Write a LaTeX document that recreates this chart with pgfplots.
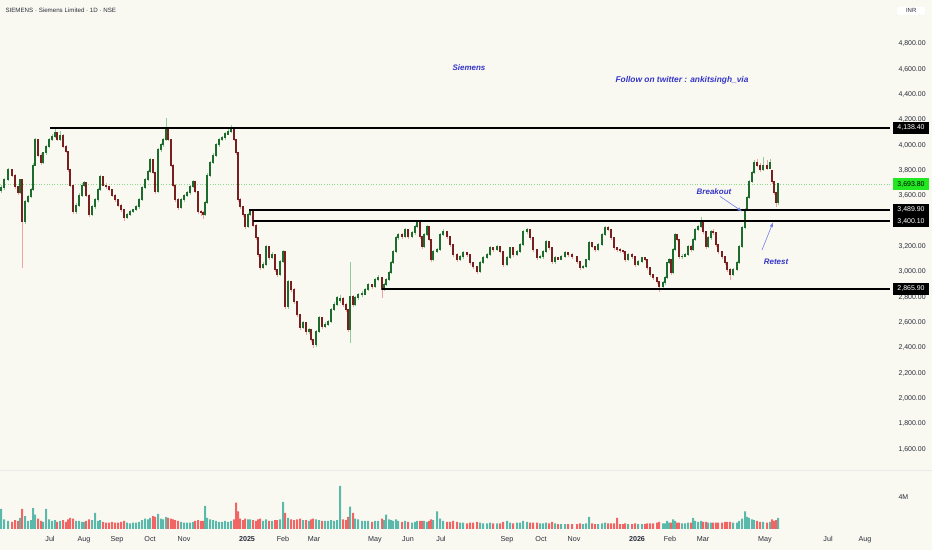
\documentclass[border=0pt]{standalone}
\usepackage{pgfplots}
\usepackage{pgfplotstable}
\pgfplotsset{compat=1.18}
\usepackage{fontspec}
\setmainfont{Liberation Sans}
\definecolor{bgcol}{HTML}{F9F9F2}
\definecolor{upbody}{HTML}{1E6B2E}
\definecolor{downbody}{HTML}{7A1F1F}
\definecolor{upwick}{HTML}{8FCB9B}
\definecolor{downwick}{HTML}{EFA3A3}
\definecolor{volup}{HTML}{3FAE9E}
\definecolor{voldown}{HTML}{F04C4C}
\definecolor{tickcol}{HTML}{2A2E39}
\definecolor{annot}{HTML}{3535C8}
\definecolor{arrowcol}{HTML}{6F7FE8}
\definecolor{lastgreen}{HTML}{22E822}
\definecolor{dotgreen}{HTML}{8CD88C}

\pgfplotstableread{
x o h l c v
1 3640 3690 3625 3663 2.5
4 3663 3740 3650 3726 1.2
8 3726 3820 3715 3805 1.0
12 3805 3815 3750 3765 0.9
15 3765 3775 3655 3671 1.1
18 3671 3680 3605 3623 1.0
20 3623 3735 3615 3726 1.4
22 3726 3735 3031 3394 2.5
25 3394 3565 3380 3552 1.6
28 3552 3605 3540 3592 1.0
31 3592 3660 3580 3647 1.1
33 3647 3860 3640 3844 2.6
35 3844 4060 3835 4042 1.8
38 4042 4050 3905 3923 1.3
41 3923 3935 3845 3860 1.0
43 3860 3950 3850 3939 0.9
46 3939 4000 3925 3987 2.5
49 3987 4060 3975 4042 1.2
52 4042 4090 4030 4066 1.0
55 4066 4125 4055 4097 1.1
57 4097 4105 4030 4042 0.9
60 4042 4110 4030 4081 1.0
63 4081 4090 3975 3987 1.1
66 3987 4000 3935 3947 0.9
68 3947 3955 3790 3805 1.2
70 3805 3815 3670 3686 1.4
73 3686 3695 3455 3473 1.3
76 3473 3545 3460 3528 1.0
79 3528 3620 3515 3607 1.0
82 3607 3700 3595 3686 0.9
84 3686 3720 3670 3702 0.9
86 3702 3710 3595 3607 1.0
89 3607 3615 3430 3450 1.2
92 3450 3530 3440 3513 1.1
95 3513 3585 3500 3568 2.0
98 3568 3660 3555 3647 1.0
100 3647 3765 3640 3750 1.1
103 3750 3760 3675 3686 0.9
106 3686 3700 3655 3671 0.8
109 3671 3680 3635 3647 0.8
112 3647 3655 3595 3607 0.9
115 3607 3615 3555 3568 0.8
118 3568 3575 3510 3528 0.8
121 3528 3535 3475 3489 0.9
124 3489 3495 3405 3426 1.0
127 3426 3465 3415 3450 0.8
130 3450 3490 3440 3473 0.7
133 3473 3500 3465 3489 0.8
136 3489 3525 3480 3513 0.8
139 3513 3580 3500 3568 0.9
142 3568 3675 3560 3663 1.1
145 3663 3740 3655 3726 1.3
148 3726 3805 3715 3789 1.2
150 3789 3900 3780 3884 1.4
153 3884 3890 3770 3781 1.6
155 3781 3790 3615 3631 1.5
158 3631 3975 3625 3963 1.9
161 3963 4020 3950 4003 1.3
163 4003 4060 3990 4042 1.2
166 4042 4216 4030 4137 1.5
168 4137 4145 4030 4042 1.4
171 4042 4050 3830 3844 1.3
173 3844 3850 3670 3686 1.2
175 3686 3695 3550 3568 1.1
178 3568 3580 3485 3505 1.0
181 3505 3580 3495 3568 0.9
184 3568 3615 3555 3600 0.8
187 3600 3640 3590 3623 0.8
190 3623 3685 3610 3671 0.8
193 3671 3725 3660 3710 0.9
195 3710 3715 3620 3631 1.0
198 3631 3640 3455 3473 1.1
201 3473 3490 3445 3465 1.0
203 3465 3480 3420 3450 1.0
205 3450 3560 3440 3544 2.9
207 3544 3780 3535 3765 1.4
210 3765 3875 3750 3860 1.2
213 3860 3940 3850 3923 1.1
216 3923 4015 3910 4003 1.0
219 4003 4060 3990 4042 0.9
222 4042 4075 4030 4058 0.9
225 4058 4105 4045 4089 1.0
228 4089 4125 4080 4105 0.9
231 4105 4160 4095 4129 1.0
234 4129 4135 4030 4042 1.2
236 4042 4050 3925 3939 3.3
238 3939 3945 3550 3568 2.2
240 3568 3580 3495 3513 1.3
243 3513 3520 3430 3450 1.1
245 3450 3460 3340 3355 1.3
248 3355 3465 3345 3450 1.2
250 3450 3490 3440 3473 1.2
253 3473 3480 3355 3370 1.1
256 3370 3380 3250 3268 1.0
258 3268 3275 3115 3134 1.2
260 3134 3140 3015 3031 1.3
263 3031 3075 3020 3055 1.0
266 3055 3215 3045 3197 1.2
269 3197 3205 3095 3110 1.0
272 3110 3155 3100 3134 1.0
275 3134 3140 3000 3015 1.1
277 3015 3025 2960 2976 1.1
280 2976 3090 2965 3078 1.2
283 3078 3175 3070 3157 3.4
285 3157 3165 2705 2723 2.0
288 2723 2935 2710 2920 1.4
291 2920 2930 2840 2857 1.2
294 2857 2870 2745 2762 1.1
297 2762 2770 2640 2660 1.2
300 2660 2670 2540 2557 1.3
303 2557 2615 2545 2596 1.1
306 2596 2605 2505 2525 1.1
309 2525 2560 2510 2541 1.0
311 2541 2550 2445 2462 1.2
313 2462 2470 2399 2423 1.3
316 2423 2540 2410 2525 1.2
319 2525 2650 2515 2636 1.1
322 2636 2645 2550 2565 1.0
325 2565 2600 2555 2581 1.0
328 2581 2620 2570 2604 1.0
331 2604 2715 2595 2699 1.1
334 2699 2760 2690 2739 1.0
337 2739 2810 2730 2794 1.1
340 2770 2815 2755 2790 5.4
343 2790 2800 2725 2739 1.2
346 2739 2750 2685 2699 1.1
348 2699 2710 2525 2541 1.5
350 2541 3078 2438 2802 2.8
353 2802 2815 2725 2739 2.0
355 2739 2810 2730 2794 1.3
358 2794 2835 2780 2818 1.2
362 2818 2845 2800 2825 1.0
365 2825 2875 2815 2857 1.0
368 2857 2915 2845 2897 1.0
372 2897 2905 2865 2881 0.9
375 2881 2950 2870 2936 1.0
378 2936 2975 2925 2952 1.0
382 2952 2960 2794 2857 1.3
384 2857 2910 2845 2897 1.1
386 2897 2950 2885 2936 1.8
389 2936 3005 2925 2991 1.2
391 2991 3085 2980 3070 1.1
393 3070 3170 3060 3157 1.0
396 3157 3285 3150 3268 1.2
398 3268 3310 3255 3292 1.0
402 3292 3305 3260 3276 0.9
405 3276 3345 3265 3331 1.0
408 3331 3340 3260 3276 0.9
412 3276 3325 3265 3307 0.8
415 3307 3370 3295 3355 0.9
417 3355 3400 3345 3386 1.0
420 3386 3395 3260 3276 1.0
422 3276 3285 3180 3197 1.0
424 3197 3305 3185 3292 1.0
427 3292 3370 3280 3355 0.9
429 3355 3365 3240 3252 1.0
431 3252 3260 3075 3094 1.2
433 3094 3170 3085 3157 1.1
437 3157 3190 3145 3173 2.2
440 3173 3305 3165 3292 1.3
443 3292 3335 3280 3315 1.0
447 3315 3325 3260 3276 0.9
450 3276 3285 3200 3213 0.9
453 3213 3220 3120 3134 1.0
457 3134 3145 3080 3094 0.9
460 3094 3135 3085 3118 0.8
463 3118 3165 3105 3149 0.8
467 3149 3160 3120 3134 0.7
470 3134 3140 3055 3070 0.8
473 3070 3080 3025 3039 0.8
477 3039 3050 2985 2999 0.9
480 2999 3085 2990 3070 0.8
483 3070 3125 3060 3110 0.7
487 3110 3150 3100 3134 0.7
490 3134 3205 3125 3189 0.8
493 3189 3200 3160 3173 0.7
497 3173 3215 3165 3197 0.7
500 3197 3205 3145 3157 0.7
503 3157 3165 3040 3055 0.9
507 3055 3125 3045 3110 1.0
510 3110 3200 3100 3189 0.8
513 3189 3195 3120 3134 0.7
517 3134 3170 3125 3157 0.8
520 3157 3225 3145 3213 0.8
523 3213 3330 3205 3315 1.0
527 3315 3345 3300 3331 0.9
530 3331 3340 3255 3268 0.8
533 3268 3275 3160 3173 0.8
537 3173 3180 3095 3110 0.8
540 3110 3135 3100 3118 0.7
543 3118 3170 3105 3157 0.7
546 3157 3250 3145 3236 0.8
549 3236 3245 3175 3189 0.7
552 3189 3195 3060 3078 0.9
555 3078 3125 3065 3110 0.7
558 3110 3120 3090 3100 0.6
561 3100 3130 3090 3118 0.6
565 3118 3165 3110 3149 0.6
568 3149 3160 3120 3134 0.6
572 3134 3145 3105 3118 0.6
577 3118 3125 3065 3078 0.6
580 3078 3085 3015 3031 0.7
583 3031 3055 3020 3039 0.6
586 3039 3105 3030 3094 0.7
589 3094 3240 3085 3228 1.5
592 3228 3235 3185 3197 0.7
595 3197 3205 3160 3173 0.6
598 3173 3225 3165 3213 0.6
602 3213 3305 3205 3292 0.7
605 3292 3360 3280 3347 0.8
608 3347 3360 3320 3331 0.7
611 3331 3340 3255 3268 0.7
614 3268 3275 3175 3189 0.7
617 3189 3195 3160 3173 1.4
620 3173 3185 3150 3165 0.6
623 3165 3170 3140 3157 0.6
625 3157 3165 3080 3094 0.7
628 3094 3145 3085 3134 0.6
632 3134 3145 3105 3118 0.6
635 3118 3125 3040 3055 0.7
638 3055 3090 3045 3078 0.6
642 3078 3120 3070 3110 0.6
645 3110 3120 3085 3094 0.6
647 3094 3100 3015 3031 0.7
650 3031 3040 2960 2976 0.7
653 2976 2985 2935 2952 0.7
657 2952 2960 2905 2920 0.8
659 2920 2930 2841 2881 0.9
663 2881 2930 2870 2912 0.7
665 2912 2965 2900 2952 0.7
667 2952 3080 2945 3070 1.0
669 3070 3110 3060 3094 0.8
671 3094 3100 2975 2991 0.8
673 2991 3185 2985 3173 1.2
675 3173 3305 3165 3292 1.0
677 3292 3300 3240 3252 0.8
679 3252 3260 3105 3118 0.8
682 3118 3140 3100 3125 0.7
685 3125 3150 3115 3134 0.7
688 3134 3210 3125 3197 0.8
691 3197 3210 3160 3173 0.8
693 3173 3265 3165 3252 1.4
695 3252 3345 3245 3331 1.0
698 3331 3370 3320 3355 0.9
701 3355 3434 3345 3386 1.0
703 3386 3395 3300 3315 0.9
706 3315 3320 3180 3197 0.9
708 3197 3280 3185 3268 0.8
711 3268 3330 3255 3315 0.8
713 3315 3335 3290 3307 0.8
716 3307 3315 3200 3213 0.8
718 3213 3220 3140 3157 0.8
722 3157 3165 3100 3118 0.8
725 3118 3125 3055 3070 0.9
727 3070 3080 3000 3015 0.9
730 3015 3030 2936 2976 0.9
733 2976 3030 2965 3015 0.8
737 3015 3085 3005 3070 0.8
739 3070 3210 3060 3197 1.0
742 3197 3360 3190 3347 1.3
745 3347 3505 3340 3489 2.2
747 3489 3600 3480 3584 1.5
749 3584 3725 3575 3710 1.4
752 3710 3800 3700 3781 1.2
754 3781 3885 3770 3860 1.1
757 3860 3890 3830 3844 1.0
760 3844 3860 3790 3805 0.9
763 3805 3905 3795 3844 0.9
767 3844 3880 3805 3820 0.8
770 3820 3890 3810 3860 0.9
772 3800 3805 3695 3710 1.2
774 3710 3720 3610 3623 1.0
776 3623 3630 3515 3544 1.1
778 3544 3705 3530 3694 1.4
}\candles

\begin{document}
\begin{tikzpicture}
\fill[bgcol] (0,0) rectangle (932bp,550bp);
\path[use as bounding box] (0,0) rectangle (932bp,550bp);

% ---------- volume pane ----------
\begin{axis}[
  at={(0,0)}, anchor=south west,
  scale only axis, width=932bp, height=550bp,
  xmin=0, xmax=932, ymin=-2.625, ymax=66.125,
  axis line style={draw=none}, tick style={draw=none},
  xtick=\empty, ytick={4}, yticklabels={4M},
  yticklabel pos=right,
  yticklabel style={anchor=west, xshift=-37bp, font=\fontsize{7}{8}\selectfont, text=tickcol},
  ybar, bar width=2bp, bar shift=0pt,
  unbounded coords=discard, clip=true,
]
\addplot[fill=volup, draw=none, fill opacity=0.85]
  table[x=x, y expr={\thisrow{c}>=\thisrow{o} ? \thisrow{v} : nan}] {\candles};
\addplot[fill=voldown, draw=none, fill opacity=0.85]
  table[x=x, y expr={\thisrow{c}<\thisrow{o} ? \thisrow{v} : nan}] {\candles};
\end{axis}

% ---------- price pane ----------
\begin{axis}[
  at={(0,0)}, anchor=south west,
  scale only axis, width=932bp, height=550bp,
  xmin=0, xmax=932, ymin=802.6, ymax=5147.6,
  axis line style={draw=none}, tick style={draw=none},
  ytick={1600,1800,...,4800},
  yticklabel pos=right,
  yticklabel style={anchor=west, xshift=-37bp, font=\fontsize{7}{8}\selectfont, text=tickcol,
    /pgf/number format/.cd, fixed, fixed zerofill, precision=2, 1000 sep={,}, assume math mode=true},
  xtick={50,84,117,150,184,247,283,314,375,408,441,507,541,574,637,670,703,765,828,865},
  xticklabels={Jul,Aug,Sep,Oct,Nov,\textbf{2025},Feb,Mar,May,Jun,Jul,Sep,Oct,Nov,\textbf{2026},Feb,Mar,May,Jul,Aug},
  xticklabel style={anchor=base, yshift=9bp, font=\fontsize{7.2}{8}\selectfont, text=tickcol},
  unbounded coords=discard, clip=false,
  candle/.style={draw=none, mark=none, forget plot},
]
% pane separator
\addplot[draw=black!8, line width=0.6bp, forget plot] coordinates {(0,1434.6) (932,1434.6)};
% last price dotted line
\addplot[dotgreen, line width=0.6bp, dotted, forget plot] coordinates {(0,3693.8) (890,3693.8)};

% wicks
\addplot[candle,
  error bars/.cd, y dir=both, y explicit, error mark=none,
  error bar style={line width=0.55bp, draw=upwick}]
  table[x=x, y expr={\thisrow{c}>=\thisrow{o} ? 0.5*(\thisrow{h}+\thisrow{l}) : nan},
        y error expr={0.5*(\thisrow{h}-\thisrow{l})}] {\candles};
\addplot[candle,
  error bars/.cd, y dir=both, y explicit, error mark=none,
  error bar style={line width=0.55bp, draw=downwick}]
  table[x=x, y expr={\thisrow{c}<\thisrow{o} ? 0.5*(\thisrow{h}+\thisrow{l}) : nan},
        y error expr={0.5*(\thisrow{h}-\thisrow{l})}] {\candles};
% bodies
\addplot[candle,
  error bars/.cd, y dir=both, y explicit, error mark=none,
  error bar style={line width=1.8bp, draw=upbody}]
  table[x=x, y expr={\thisrow{c}>=\thisrow{o} ? 0.5*(\thisrow{o}+\thisrow{c}) : nan},
        y error expr={0.5*abs(\thisrow{c}-\thisrow{o})+4}] {\candles};
\addplot[candle,
  error bars/.cd, y dir=both, y explicit, error mark=none,
  error bar style={line width=1.8bp, draw=downbody}]
  table[x=x, y expr={\thisrow{c}<\thisrow{o} ? 0.5*(\thisrow{o}+\thisrow{c}) : nan},
        y error expr={0.5*abs(\thisrow{c}-\thisrow{o})+4}] {\candles};

% horizontal levels
\addplot[black, line width=1.6bp, forget plot] coordinates {(50,4138.4) (890,4138.4)};
\addplot[black, line width=1.6bp, forget plot] coordinates {(249,3489.9) (890,3489.9)};
\addplot[black, line width=1.6bp, forget plot] coordinates {(253,3400.1) (890,3400.1)};
\addplot[black, line width=1.6bp, forget plot] coordinates {(382,2865.9) (890,2865.9)};

% price boxes
\tikzset{pbox/.style={fill=black, text=white, inner sep=0pt, minimum width=36bp, minimum height=12bp, font=\fontsize{7}{8}\selectfont}}
\node[pbox] at (axis cs:911,4138.4) {4,138.40};
\node[pbox] at (axis cs:911,3489.9) {3,489.90};
\node[pbox] at (axis cs:911,3400.1) {3,400.10};
\node[pbox] at (axis cs:911,2865.9) {2,865.90};
\node[pbox, fill=lastgreen, text=black] at (axis cs:911,3693.8) {3,693.80};

% header and labels
\node[anchor=west, font=\fontsize{6.2}{8}\selectfont, text=tickcol] at (axis cs:2,5068) {SIEMENS · Siemens Limited · 1D · NSE};
\node[fill=white, rounded corners=1.5bp, inner xsep=3bp, inner ysep=2bp, minimum width=28bp, text=tickcol, font=\fontsize{6}{7}\selectfont, anchor=west] at (axis cs:897,5063) {INR};

% annotations
\node[text=annot, font=\bfseries\itshape\fontsize{8}{9}\selectfont] at (axis cs:469,4610) {Siemens};
\node[text=annot, font=\bfseries\itshape\fontsize{8.4}{9}\selectfont] at (axis cs:682,4516) {Follow on twitter : ankitsingh\_via};
\node[text=annot, font=\bfseries\itshape\fontsize{8}{9}\selectfont] at (axis cs:714,3631) {Breakout};
\node[text=annot, font=\bfseries\itshape\fontsize{8}{9}\selectfont] at (axis cs:776,3078) {Retest};
\draw[arrowcol, line width=0.6bp, -{latex}] (axis cs:720,3596) -- (axis cs:742,3478);
\draw[arrowcol, line width=0.6bp, -{latex}] (axis cs:762,3173) -- (axis cs:773,3390);
\end{axis}
\end{tikzpicture}
\end{document}
